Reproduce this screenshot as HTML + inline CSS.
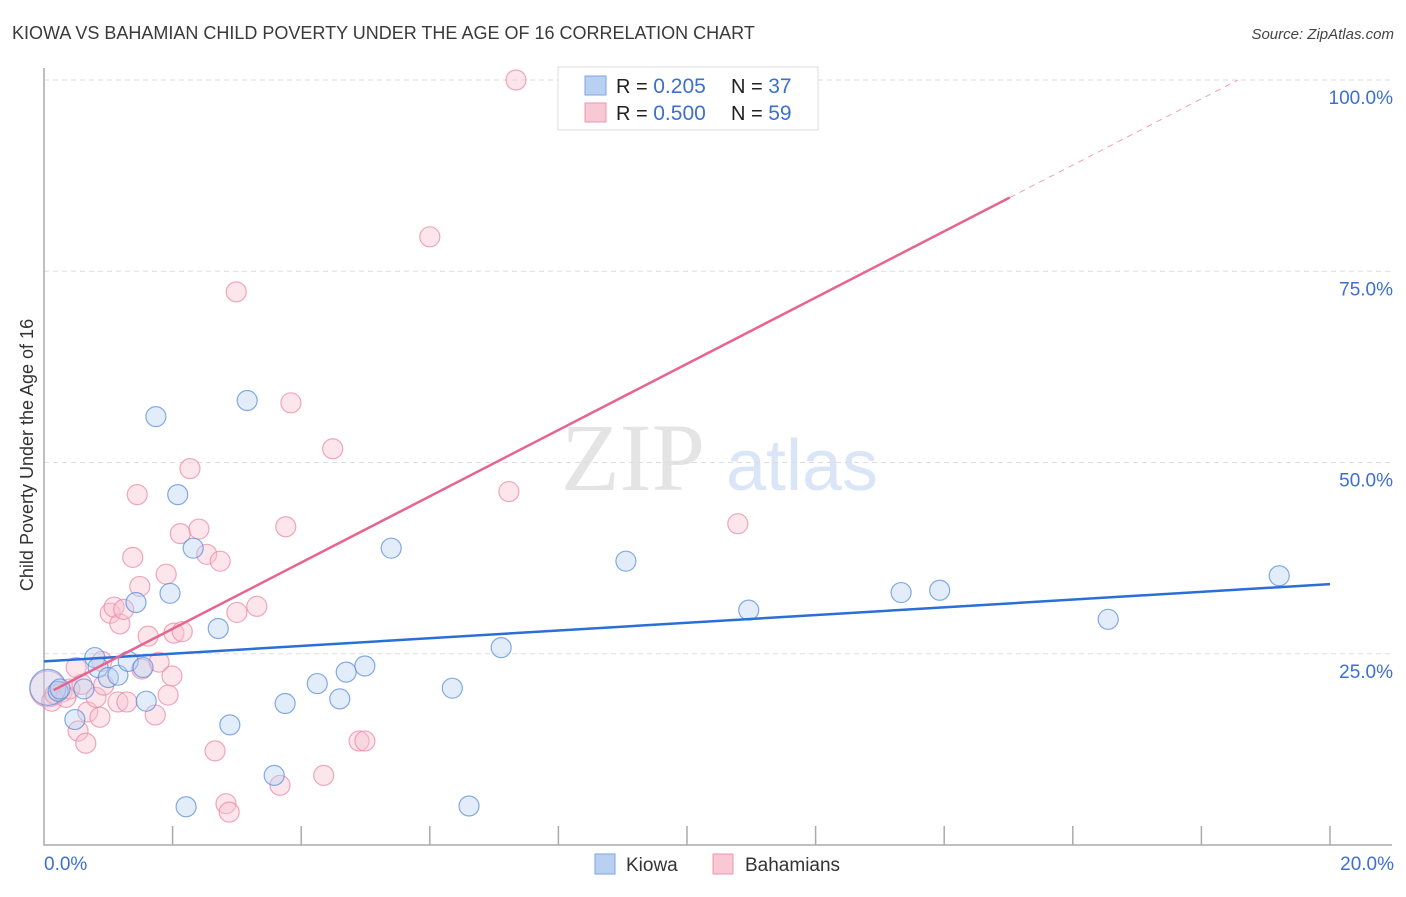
<!DOCTYPE html>
<html><head><meta charset="utf-8"><style>
body{margin:0;background:#fff;width:1406px;height:892px;overflow:hidden;font-family:"Liberation Sans",sans-serif}
</style></head><body>
<svg id="chart" width="1406" height="892" xmlns="http://www.w3.org/2000/svg">
<text x="12" y="39" font-size="18" fill="#3a3a3a">KIOWA VS BAHAMIAN CHILD POVERTY UNDER THE AGE OF 16 CORRELATION CHART</text>
<text x="1394" y="39" font-size="15" fill="#444" text-anchor="end" font-style="italic">Source: ZipAtlas.com</text>
<text transform="translate(33,455) rotate(-90)" font-size="18" fill="#333" text-anchor="middle">Child Poverty Under the Age of 16</text>
<g>
<text x="633" y="490" font-size="96" font-family="Liberation Serif,serif" fill="#e4e4e4" text-anchor="middle">ZIP</text>
<text x="802" y="490" font-size="72" fill="#dae6f7" text-anchor="middle">atlas</text>
</g>
<g id="grid"></g><g id="axes"></g><g id="marks"></g>
<g>
<rect x="558" y="67" width="260" height="63" fill="#fff" stroke="#ddd"/>
<rect x="585" y="76" width="21" height="19" fill="#b8d1f3" stroke="#7ea6e0"/>
<rect x="585" y="103" width="21" height="19" fill="#f8c8d5" stroke="#ec96ae"/>
<text x="616" y="93" font-size="20" fill="#222">R = <tspan fill="#3d6fd1" font-size="21">0.205</tspan></text>
<text x="731" y="93" font-size="20" fill="#222">N = <tspan fill="#3d6fd1" font-size="21">37</tspan></text>
<text x="616" y="120" font-size="20" fill="#222">R = <tspan fill="#3d6fd1" font-size="21">0.500</tspan></text>
<text x="731" y="120" font-size="20" fill="#222">N = <tspan fill="#3d6fd1" font-size="21">59</tspan></text>
</g>
<g>
<rect x="595" y="854" width="20" height="20" fill="#b8d1f3" stroke="#7ea6e0"/>
<text x="626" y="871" font-size="19" fill="#333">Kiowa</text>
<rect x="713" y="854" width="20" height="20" fill="#f8c8d5" stroke="#ec96ae"/>
<text x="745" y="871" font-size="19" fill="#333">Bahamians</text>
</g>
</svg>
<script>
const yTicks=[25,50,75,100];
const yTickLabels=["25.0%","50.0%","75.0%","100.0%"];
const kiowaX=[0.06,0.22,0.25,0.48,0.62,0.79,0.84,1.00,1.15,1.31,1.43,1.54,1.59,1.74,1.96,2.08,2.21,2.32,2.71,2.89,3.16,3.58,3.75,4.25,4.60,4.70,4.99,5.40,6.35,6.61,7.11,9.05,10.96,13.33,13.93,16.55,19.21];
const kiowaY=[20.6,20.1,20.4,16.4,20.4,24.5,23.2,21.9,22.2,24.0,31.7,23.2,18.8,56.0,32.9,45.8,5.0,38.8,28.3,15.7,58.1,9.1,18.5,21.1,19.1,22.6,23.4,38.8,20.5,5.1,25.8,37.1,30.7,33.0,33.3,29.5,35.2];
const bahX=[0.06,0.12,0.17,0.28,0.34,0.40,0.50,0.53,0.59,0.65,0.68,0.81,0.87,0.90,0.93,1.03,1.09,1.15,1.18,1.24,1.29,1.38,1.45,1.49,1.52,1.62,1.73,1.79,1.90,1.93,1.99,2.02,2.12,2.15,2.27,2.41,2.53,2.66,2.74,2.83,2.88,2.99,3.00,3.31,3.67,3.76,3.84,4.35,4.49,4.90,4.99,6.00,7.23,7.34,10.79];
const bahY=[20.4,18.8,19.7,20.0,19.3,20.4,23.2,14.9,21.0,13.3,17.4,19.3,16.7,24.0,20.9,30.3,31.1,18.7,28.9,30.8,18.7,37.6,45.8,33.8,23.0,27.3,17.0,23.9,35.4,19.6,22.1,27.7,40.7,27.9,49.2,41.3,38.0,12.3,37.1,5.4,4.3,72.3,30.4,31.2,7.8,41.6,57.8,9.1,51.8,13.6,13.6,79.5,46.2,100.0,42.0];
const kiowaTrend=[24.0,34.1];
const bahTrend=[19.6,4.33];
const X=v=>44+v/20*1286, Y=v=>845-v/100*765;
const NS="http://www.w3.org/2000/svg";
function mk(p,t,a){const e=document.createElementNS(NS,t);for(const k in a)e.setAttribute(k,a[k]);p.appendChild(e);return e;}
const grid=document.getElementById('grid'),axes=document.getElementById('axes'),marks=document.getElementById('marks');
yTicks.forEach((t,i)=>{
const l=mk(grid,'line',{x1:44,x2:1392,y1:Y(t),y2:Y(t),stroke:'#ddd','stroke-dasharray':'5,4'});


const tx=mk(axes,'text',{x:1393,y:Y(t)+24,'font-size':19,fill:'#3d6fd1','text-anchor':'end'});
tx.textContent=yTickLabels[i];


});
const ax=mk(axes,'path',{d:'M44,68V845H1392',stroke:'#aaa',fill:'none','stroke-width':1.5});


for(let i=1;i<=10;i++){const t=mk(axes,'line',{x1:X(i*2),x2:X(i*2),y1:826,y2:845,stroke:'#aaa','stroke-width':1.5});

}
const x0=mk(axes,'text',{x:44,y:870,'font-size':19,fill:'#3d6fd1'});x0.textContent='0.0%';


const x1=mk(axes,'text',{x:1394,y:870,'font-size':19,fill:'#3d6fd1','text-anchor':'end'});x1.textContent='20.0%';


function dots(xs,ys,fill,stroke,name){xs.forEach((x,i)=>{const c=mk(marks,'circle',{cx:X(x),cy:Y(ys[i]),r:i==0?18:10,fill:fill,'fill-opacity':i==0?0.3:0.4,stroke:stroke,'stroke-opacity':0.75,'stroke-width':1.2});

});}
dots(bahX,bahY,'#f8c0d0','#ec8aa8','bahamians-point');
dots(kiowaX,kiowaY,'#b8d1f3','#5b8fdc','kiowa-point');
const kl=mk(marks,'line',{x1:X(0),y1:Y(kiowaTrend[0]),x2:X(20),y2:Y(kiowaTrend[1]),stroke:'#2a6fd6','stroke-width':2.5});


const xe=15.02, xd=(100-bahTrend[0])/bahTrend[1];
const bl=mk(marks,'line',{x1:X(0.15),y1:Y(bahTrend[0]+bahTrend[1]*0.15),x2:X(xe),y2:Y(bahTrend[0]+bahTrend[1]*xe),stroke:'#e8648f','stroke-width':2.5});


const bd=mk(marks,'line',{x1:X(xe),y1:Y(bahTrend[0]+bahTrend[1]*xe),x2:X(xd),y2:Y(100),stroke:'#f0a0b8','stroke-width':1,'stroke-dasharray':'6,5'});


</script>
</body></html>
